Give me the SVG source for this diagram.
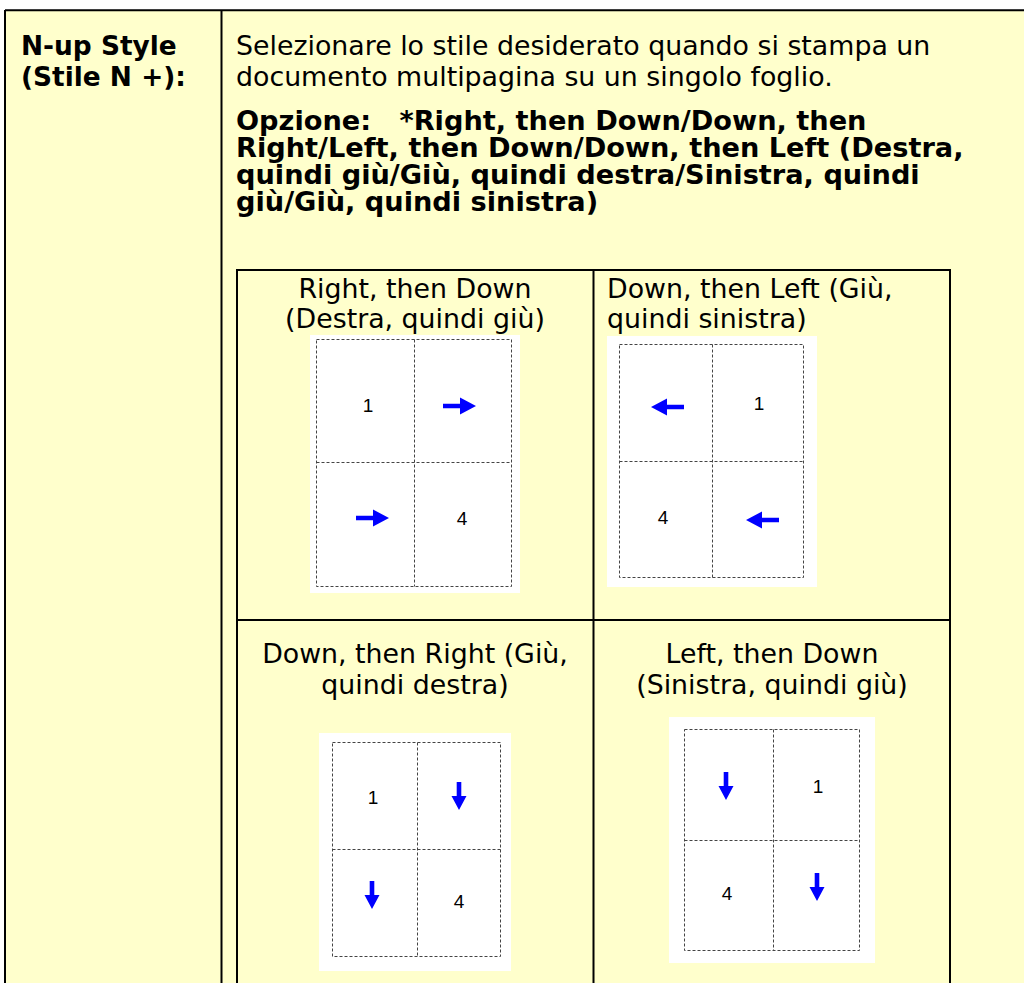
<svg xmlns="http://www.w3.org/2000/svg" width="1024" height="983" viewBox="0 0 1024 983">
<style>
.b{stroke:#000;stroke-width:2;fill:none}
.t{font-family:"DejaVu Sans",Verdana,sans-serif;font-size:26.8px;fill:#000}
.tb{font-family:"DejaVu Sans",Verdana,sans-serif;font-size:27.2px;font-weight:bold;fill:#000}
.tl{font-family:"DejaVu Sans",Verdana,sans-serif;font-size:26.4px;font-weight:bold;fill:#000}
.pg{fill:#fff}
.g{stroke:#444;stroke-width:1;stroke-dasharray:3 2;fill:none}
.d{font-family:"Liberation Sans",Arial,sans-serif;font-size:19px;fill:#000;text-anchor:middle}
.a{fill:#0000ff}
</style>
<defs>
<path id="ar" d="M0,-2.3 H17 V-8.5 L33,0 L17,8.5 V2.3 H0 Z"/>
<path id="ad" d="M-2.3,0 V14 H-7.5 L0,28 L7.5,14 H2.3 V0 Z"/>
</defs>
<rect x="0" y="0" width="1024" height="983" fill="#fff"/>
<rect x="5" y="10" width="1019" height="973" fill="#ffffcc"/>
<g id="table">
<path class="b" d="M5,10.3 H1024 M5,10 V983 M221.5,10 V983"/>
</g>
<g id="label">
<text class="tl" x="21" y="55">N-up Style</text>
<text class="tl" x="21" y="86">(Stile N +):</text>
</g>
<g id="description">
<text class="t" x="236" y="55">Selezionare lo stile desiderato quando si stampa un</text>
<text class="t" x="236" y="86">documento multipagina su un singolo foglio.</text>
<text class="tb" x="236" y="130" xml:space="preserve">Opzione:   *Right, then Down/Down, then</text>
<text class="tb" x="236" y="157">Right/Left, then Down/Down, then Left (Destra,</text>
<text class="tb" x="236" y="184">quindi giù/Giù, quindi destra/Sinistra, quindi</text>
<text class="tb" x="236" y="211">giù/Giù, quindi sinistra)</text>
</g>
<g id="inner-table">
<path class="b" d="M237,270 H950 M237,269 V983 M950,269 V983 M593.5,270 V983 M237,620 H950"/>
</g>
<g id="cell-right-then-down">
<text class="t" x="415" y="298" text-anchor="middle">Right, then Down</text>
<text class="t" x="415" y="328" text-anchor="middle">(Destra, quindi giù)</text>
<rect class="pg" x="310" y="335" width="210" height="258"/>
<rect class="g" x="316.5" y="339.5" width="195" height="247"/>
<path class="g" d="M414.5,339.5 V586.5 M316.5,462.5 H511.5"/>
<text class="d" x="368" y="412">1</text>
<use href="#ar" class="a" x="443" y="406"/>
<use href="#ar" class="a" x="356" y="518"/>
<text class="d" x="462" y="525">4</text>
</g>
<g id="cell-down-then-left">
<text class="t" x="607" y="298">Down, then Left (Giù,</text>
<text class="t" x="607" y="328">quindi sinistra)</text>
<rect class="pg" x="607" y="336" width="210" height="251"/>
<rect class="g" x="619.5" y="344.5" width="184" height="233"/>
<path class="g" d="M712.5,344.5 V577.5 M619.5,461.5 H803.5"/>
<use href="#ar" class="a" transform="translate(684,407) rotate(180)"/>
<text class="d" x="759" y="410">1</text>
<text class="d" x="663" y="524">4</text>
<use href="#ar" class="a" transform="translate(779,520) rotate(180)"/>
</g>
<g id="cell-down-then-right">
<text class="t" x="415" y="663" text-anchor="middle">Down, then Right (Giù,</text>
<text class="t" x="415" y="694" text-anchor="middle">quindi destra)</text>
<rect class="pg" x="319" y="733" width="192" height="238"/>
<rect class="g" x="332.5" y="742.5" width="168" height="214"/>
<path class="g" d="M417.5,742.5 V956.5 M332.5,849.5 H500.5"/>
<text class="d" x="373" y="804">1</text>
<use href="#ad" class="a" x="459" y="782"/>
<use href="#ad" class="a" x="372" y="881"/>
<text class="d" x="459" y="908">4</text>
</g>
<g id="cell-left-then-down">
<text class="t" x="772" y="663" text-anchor="middle">Left, then Down</text>
<text class="t" x="772" y="694" text-anchor="middle">(Sinistra, quindi giù)</text>
<rect class="pg" x="669" y="717" width="206" height="246"/>
<rect class="g" x="684.5" y="729.5" width="175" height="221"/>
<path class="g" d="M773.5,729.5 V950.5 M684.5,840.5 H859.5"/>
<use href="#ad" class="a" x="726" y="772"/>
<text class="d" x="818" y="793">1</text>
<text class="d" x="727" y="900">4</text>
<use href="#ad" class="a" x="817" y="873"/>
</g>
</svg>
